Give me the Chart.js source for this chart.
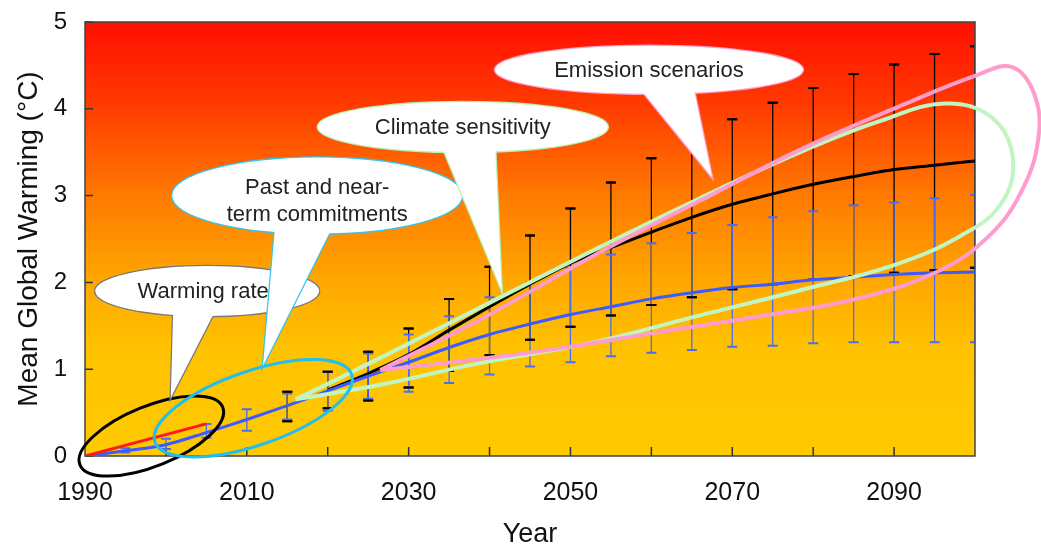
<!DOCTYPE html>
<html>
<head>
    <title>Mean Global Warming</title>
    <style>
        body { margin: 0; background: #fff; font-family: "Liberation Sans", Arial, sans-serif; }
        #chartContainer { width: 1041px; height: 549px; }
    </style>
    <script src="https://cdn.jsdelivr.net/npm/chart.js"></script>
</head>
<body>
<div id="chartContainer">
    <canvas id="warmingChart"></canvas>
</div>
<script>
    // series (degrees C above 1990)
    const years = [1990, 1995, 2000, 2005, 2010, 2015, 2020, 2025, 2030, 2035, 2040, 2045,
                   2050, 2055, 2060, 2065, 2070, 2075, 2080, 2085, 2090, 2095, 2100];
    const lowMean  = [0, 0.06, 0.13, 0.27, 0.42, 0.58, 0.75, 0.92, 1.08, 1.25, 1.40, 1.52,
                      1.63, 1.72, 1.81, 1.88, 1.94, 1.98, 2.03, 2.06, 2.09, 2.11, 2.12];
    const lowMin   = [null, 0.04, 0.08, 0.21, 0.29, 0.42, 0.52, 0.66, 0.74, 0.84, 0.94, 1.03,
                      1.08, 1.15, 1.19, 1.22, 1.26, 1.27, 1.30, 1.31, 1.31, 1.31, 1.31];
    const lowMax   = [null, 0.09, 0.20, 0.37, 0.54, 0.72, 0.97, 1.18, 1.40, 1.61, 1.83, 2.00,
                      2.17, 2.32, 2.45, 2.57, 2.66, 2.75, 2.82, 2.89, 2.92, 2.97, 3.01];
    const highMean = [null, null, null, null, null, null, 0.76, 0.95, 1.17, 1.45, 1.72, 1.98,
                      2.22, 2.40, 2.58, 2.75, 2.90, 3.02, 3.13, 3.22, 3.30, 3.35, 3.40];
    const highMin  = [null, null, null, null, null, 0.40, 0.55, 0.64, 0.79, 0.98, 1.16, 1.34,
                      1.49, 1.62, 1.74, 1.83, 1.92, 1.98, 2.03, 2.07, 2.11, 2.14, 2.17];
    const highMax  = [null, null, null, null, null, 0.74, 0.97, 1.20, 1.47, 1.81, 2.18, 2.54,
                      2.85, 3.15, 3.43, 3.68, 3.88, 4.07, 4.24, 4.40, 4.51, 4.63, 4.72];
    const obsYears  = [1990, 2005];
    const obsValues = [0, 0.37];

    const yTicks = [0, 1, 2, 3, 4, 5];
    const xLabelYears = [1990, 2010, 2030, 2050, 2070, 2090];

    // annotation loops [year, degC]
    const sensitivityLoop = [
        [2016.0, 0.65], [2026.5, 1.13], [2040.1, 1.77], [2053.7, 2.41], [2066.0, 2.97],
        [2078.4, 3.50], [2088.3, 3.86], [2096.3, 4.06], [2102.2, 3.89], [2104.7, 3.41],
        [2103.1, 2.89], [2098.1, 2.53], [2090.0, 2.20], [2078.4, 1.91], [2066.0, 1.62],
        [2052.4, 1.30], [2038.8, 1.07], [2026.5, 0.82], [2016.0, 0.65]
    ];
    const emissionLoop = [
        [2026.5, 0.99], [2038.8, 1.57], [2053.7, 2.35], [2066.0, 2.94], [2078.4, 3.53],
        [2090.7, 4.03], [2100.0, 4.38], [2104.6, 4.48], [2107.4, 4.15], [2107.8, 3.64],
        [2105.8, 3.06], [2101.9, 2.55], [2095.7, 2.14], [2085.8, 1.82], [2073.4, 1.61],
        [2061.1, 1.43], [2048.7, 1.24], [2036.3, 1.09], [2026.5, 0.99]
    ];

    const rings = [
        { at: [1998.2, 0.23], rx: 77, ry: 30, rot: -22, color: '#000000' },
        { at: [2010.8, 0.55], rx: 104, ry: 37, rot: -19, color: '#22bfee' }
    ];

    const bubbles = [
        { at: [2005.1, 1.90], rx: 112, ry: 25, base: [[-34, 20], [8, 20]], tip: [2000.6, 0.67],
          color: '#777777', text: ['Warming rate'], textAt: [-4, 1] },
        { at: [2018.7, 3.00], rx: 145, ry: 38, base: [[-42, 30], [16, 30]], tip: [2012.0, 1.04],
          color: '#33c3ee', text: ['Past and near-', 'term commitments'], textAt: [0, -8] },
        { at: [2036.7, 3.79], rx: 145, ry: 25, base: [[-23, 14], [32, 14]], tip: [2041.5, 1.91],
          color: '#b8f0b8', text: ['Climate sensitivity'], textAt: [0, 1] },
        { at: [2059.7, 4.45], rx: 154, ry: 24, base: [[-12, 15], [44, 15]], tip: [2067.5, 3.21],
          color: '#ff9ccc', text: ['Emission scenarios'], textAt: [0, 1] }
    ];

    const toPoints = (xs, ys) => xs.map((v, i) => ({ x: v, y: ys[i] })).filter(p => p.y !== null);
    const loopPoints = loop => loop.map(p => ({ x: p[0], y: p[1] }));

    const backdrop = {
        id: 'backdrop',
        beforeDatasetsDraw(chart) {
            const { ctx, chartArea: a, scales: { x, y } } = chart;
            ctx.save();
            const g = ctx.createLinearGradient(0, a.top, 0, a.bottom);
            g.addColorStop(0, 'rgb(255,14,0)');
            g.addColorStop(0.18, 'rgb(255,56,0)');
            g.addColorStop(0.4, 'rgb(255,122,0)');
            g.addColorStop(0.6, 'rgb(255,168,0)');
            g.addColorStop(0.75, 'rgb(255,194,0)');
            g.addColorStop(1, 'rgb(255,202,0)');
            ctx.fillStyle = g;
            ctx.fillRect(a.left, a.top, a.right - a.left, a.bottom - a.top);

            // inner tick marks
            ctx.strokeStyle = '#333';
            ctx.lineWidth = 1.5;
            ctx.beginPath();
            yTicks.forEach(v => {
                const py = y.getPixelForValue(v);
                ctx.moveTo(a.left, py); ctx.lineTo(a.left + 8, py);
            });
            for (let yr = 2000; yr < 2100; yr += 10) {
                const px = x.getPixelForValue(yr);
                ctx.moveTo(px, a.bottom); ctx.lineTo(px, a.bottom - 9);
            }
            ctx.stroke();

            // error bars
            ctx.beginPath();
            ctx.rect(a.left, a.top, a.right - a.left, a.bottom - a.top);
            ctx.clip();
            const bars = (lo, hi, color, capsOnly) => {
                ctx.strokeStyle = color;
                years.forEach((yr, i) => {
                    if (lo[i] === null) return;
                    const px = x.getPixelForValue(yr);
                    const p0 = y.getPixelForValue(lo[i]);
                    const p1 = y.getPixelForValue(hi[i]);
                    if (!capsOnly) {
                        ctx.beginPath();
                        ctx.lineWidth = 1.3;
                        ctx.moveTo(px, p0); ctx.lineTo(px, p1);
                        ctx.stroke();
                    }
                    ctx.beginPath();
                    ctx.lineWidth = 2;
                    ctx.moveTo(px - 5, p0); ctx.lineTo(px + 5, p0);
                    ctx.moveTo(px - 5, p1); ctx.lineTo(px + 5, p1);
                    ctx.stroke();
                });
            };
            bars(highMin, highMax, '#000000', false);
            bars(lowMin, lowMax, '#4a6ef2', false);
            bars(highMin, highMax, '#000000', true);
            ctx.restore();

            ctx.save();
            ctx.strokeStyle = '#444';
            ctx.lineWidth = 1.5;
            ctx.strokeRect(a.left, a.top, a.right - a.left, a.bottom - a.top);
            ctx.restore();
        }
    };

    const callouts = {
        id: 'callouts',
        afterDatasetsDraw(chart) {
            const { ctx, scales: { x, y } } = chart;
            ctx.save();
            rings.forEach(r => {
                ctx.beginPath();
                ctx.ellipse(x.getPixelForValue(r.at[0]), y.getPixelForValue(r.at[1]),
                            r.rx, r.ry, r.rot * Math.PI / 180, 0, Math.PI * 2);
                ctx.strokeStyle = r.color;
                ctx.lineWidth = 3;
                ctx.stroke();
            });

            bubbles.forEach(b => {
                const cx = x.getPixelForValue(b.at[0]);
                const cy = y.getPixelForValue(b.at[1]);
                const tx = x.getPixelForValue(b.tip[0]);
                const ty = y.getPixelForValue(b.tip[1]);
                const oval = () => { ctx.beginPath(); ctx.ellipse(cx, cy, b.rx, b.ry, 0, 0, Math.PI * 2); };
                const tail = () => {
                    ctx.beginPath();
                    ctx.moveTo(cx + b.base[0][0], cy + b.base[0][1]);
                    ctx.lineTo(tx, ty);
                    ctx.lineTo(cx + b.base[1][0], cy + b.base[1][1]);
                    ctx.closePath();
                };
                ctx.strokeStyle = b.color;
                ctx.lineWidth = 2.5;
                oval(); ctx.stroke();
                tail(); ctx.stroke();
                ctx.fillStyle = '#ffffff';
                oval(); ctx.fill();
                tail(); ctx.fill();

                ctx.fillStyle = '#222';
                ctx.font = '22px "Liberation Sans", Arial, sans-serif';
                ctx.textAlign = 'center';
                ctx.textBaseline = 'middle';
                b.text.forEach((t, k) => {
                    ctx.fillText(t, cx + b.textAt[0], cy + b.textAt[1] + k * 27);
                });
            });
            ctx.restore();
        }
    };

    new Chart(document.getElementById('warmingChart'), {
        type: 'line',
        data: {
            datasets: [
                {
                    label: 'Climate sensitivity',
                    data: loopPoints(sensitivityLoop),
                    borderColor: '#c2f5c2',
                    borderWidth: 4,
                    tension: 0.4,
                    clip: false,
                    order: 1
                },
                {
                    label: 'Emission scenarios',
                    data: loopPoints(emissionLoop),
                    borderColor: '#ff9ccc',
                    borderWidth: 4,
                    tension: 0.4,
                    clip: false,
                    order: 0
                },
                {
                    label: 'Observed',
                    data: toPoints(obsYears, obsValues),
                    borderColor: '#ff1a1a',
                    borderWidth: 3,
                    tension: 0,
                    order: 2
                },
                {
                    label: 'Low',
                    data: toPoints(years, lowMean),
                    borderColor: '#3c5aff',
                    borderWidth: 3,
                    tension: 0.3,
                    order: 3
                },
                {
                    label: 'High',
                    data: toPoints(years, highMean),
                    borderColor: '#000000',
                    borderWidth: 3,
                    tension: 0.3,
                    order: 4
                }
            ]
        },
        options: {
            responsive: true,
            maintainAspectRatio: false,
            animation: false,
            layout: { padding: { top: 22, right: 66, left: 0, bottom: 0 } },
            elements: {
                point: { radius: 0, hoverRadius: 0 },
                line: { capBezierPoints: false, fill: false }
            },
            plugins: {
                legend: { display: false },
                tooltip: { enabled: false }
            },
            scales: {
                x: {
                    type: 'linear',
                    min: 1990,
                    max: 2100,
                    grid: { display: false, drawTicks: false },
                    border: { display: false },
                    afterFit: s => { s.height = 93; },
                    ticks: {
                        stepSize: 10,
                        autoSkip: false,
                        maxRotation: 0,
                        padding: 22,
                        color: '#111',
                        font: { family: '"Liberation Sans", Arial, sans-serif', size: 25 },
                        callback: v => xLabelYears.includes(v) ? String(v) : ''
                    },
                    title: {
                        display: true,
                        text: 'Year',
                        color: '#111',
                        padding: { top: 0, bottom: -2 },
                        font: { family: '"Liberation Sans", Arial, sans-serif', size: 27 }
                    }
                },
                y: {
                    min: 0,
                    max: 5,
                    grid: { display: false, drawTicks: false },
                    border: { display: false },
                    afterFit: s => { s.width = 85; s.paddingTop = 0; s.paddingBottom = 0; },
                    ticks: {
                        stepSize: 1,
                        padding: 18,
                        color: '#111',
                        font: { family: '"Liberation Sans", Arial, sans-serif', size: 24 }
                    },
                    title: {
                        display: true,
                        text: 'Mean Global Warming (°C)',
                        color: '#111',
                        padding: { top: 12, bottom: 0 },
                        font: { family: '"Liberation Sans", Arial, sans-serif', size: 28 }
                    }
                }
            }
        },
        plugins: [backdrop, callouts]
    });
</script>
</body>
</html>
